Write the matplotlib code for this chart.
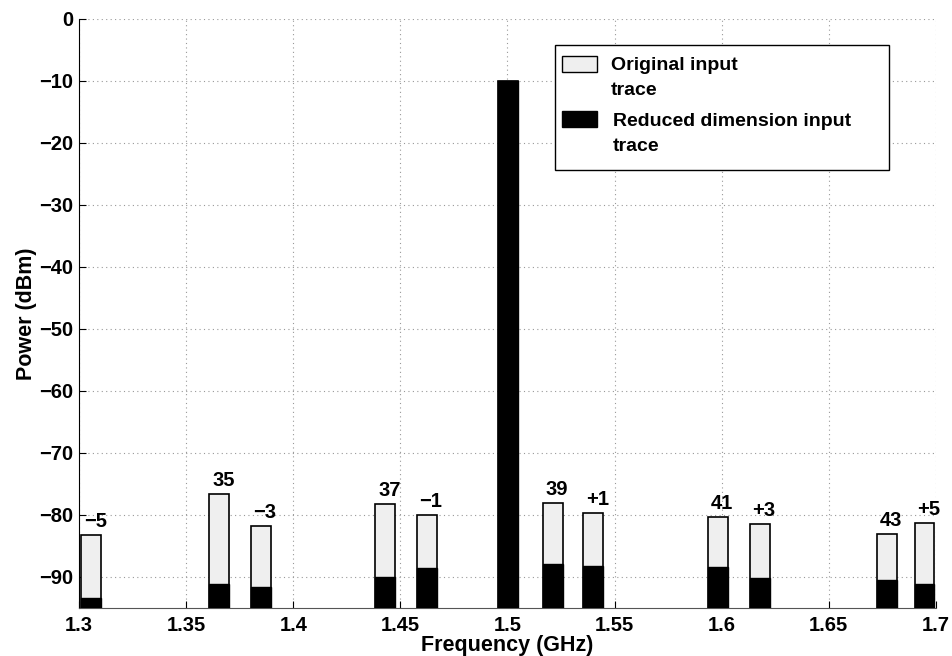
import numpy as np
import matplotlib
matplotlib.use("Agg")
import matplotlib.pyplot as plt
from matplotlib.patches import Rectangle

plt.rcParams['font.family'] = ['Liberation Sans', 'DejaVu Sans']
plt.rcParams['font.weight'] = 'bold'

########

freqs = [1.3056, 1.3654, 1.3848, 1.4429, 1.4623, 1.5001,
         1.5211, 1.5400, 1.5983, 1.6179, 1.6772, 1.6947]
bar_labels = ['\u22125', '35', '\u22123', '37', '\u22121', '',
              '39', '+1', '41', '+3', '43', '+5']
original = [-83.2, -76.7, -81.8, -78.3, -80.0, -10.0,
            -78.1, -79.7, -80.4, -81.5, -83.1, -81.3]
reduced = [-93.4, -91.1, -91.6, -90.0, -88.6, -10.0,
           -87.9, -88.2, -88.4, -90.2, -90.5, -91.1]

xticks = [1.3, 1.35, 1.4, 1.45, 1.5, 1.55, 1.6, 1.65, 1.7]
xtick_labels = ['1.3', '1.35', '1.4', '1.45', '1.5', '1.55', '1.6', '1.65', '1.7']
yticks = [0, -10, -20, -30, -40, -50, -60, -70, -80, -90]

legend_labels = ['Original input\ntrace', 'Reduced dimension input\ntrace']
legend_colors = ['#efefef', 'black']

floor = -95
width = 0.0093

########

fig = plt.figure(figsize = (9.52, 6.56), dpi = 100)
ax = fig.add_axes([0.083, 0.0732, 0.9, 0.8983])

orig = np.array(original)
red = np.array(reduced)

ax.bar(freqs, orig - floor, bottom = floor, width = width,
       color = legend_colors[0], edgecolor = 'black', lw = 1.2, zorder = 3)
ax.bar(freqs, red - floor, bottom = floor, width = width,
       color = legend_colors[1], edgecolor = 'black', lw = 1.0, zorder = 4)

for f, top, lab in zip(freqs, orig, bar_labels):
    if lab:
        ax.annotate(lab, (f, top), xytext = (3, 3), textcoords = 'offset points',
                    ha = 'center', va = 'bottom', fontsize = 14.5, fontweight = 'bold')

ax.set_xlim(1.3, 1.7)
ax.set_ylim(floor, 0)
ax.set_xticks(xticks)
ax.set_xticklabels(xtick_labels)
ax.set_yticks(yticks)

ax.tick_params(axis = 'both', direction = 'in', length = 5, labelsize = 14.5)
ax.tick_params(axis = 'x', pad = 6)
ax.tick_params(axis = 'y', pad = 4)
ax.grid(True, color = '#999999', linestyle = (0, (1, 3)), lw = 0.8, zorder = 0)
ax.set_axisbelow(True)

ax.spines['top'].set_visible(False)
ax.spines['right'].set_visible(False)
ax.spines['bottom'].set_color('#555555')

ax.set_xlabel('Frequency (GHz)', fontsize = 15.5, fontweight = 'bold', labelpad = 0)
ax.set_ylabel('Power (dBm)', fontsize = 15.5, fontweight = 'bold', labelpad = 2)

# legend, drawn by hand in axes coordinates
ax.add_patch(Rectangle((0.5556, 0.743), 0.3899, 0.212, transform = ax.transAxes,
                       facecolor = 'white', edgecolor = 'black', lw = 1.0, zorder = 5))
handle_y = [0.9096, 0.8162]
text_x = [0.6204, 0.6234]
text_y = [0.9350, 0.8400]
for i in range(2):
    ax.add_patch(Rectangle((0.5637, handle_y[i]), 0.0409, 0.0272, transform = ax.transAxes,
                           facecolor = legend_colors[i], edgecolor = 'black', lw = 1.0,
                           zorder = 6))
    ax.text(text_x[i], text_y[i], legend_labels[i], transform = ax.transAxes,
            ha = 'left', va = 'top', fontsize = 14, fontweight = 'bold',
            linespacing = 1.6, zorder = 6)

plt.savefig("out.png", dpi = 100)
